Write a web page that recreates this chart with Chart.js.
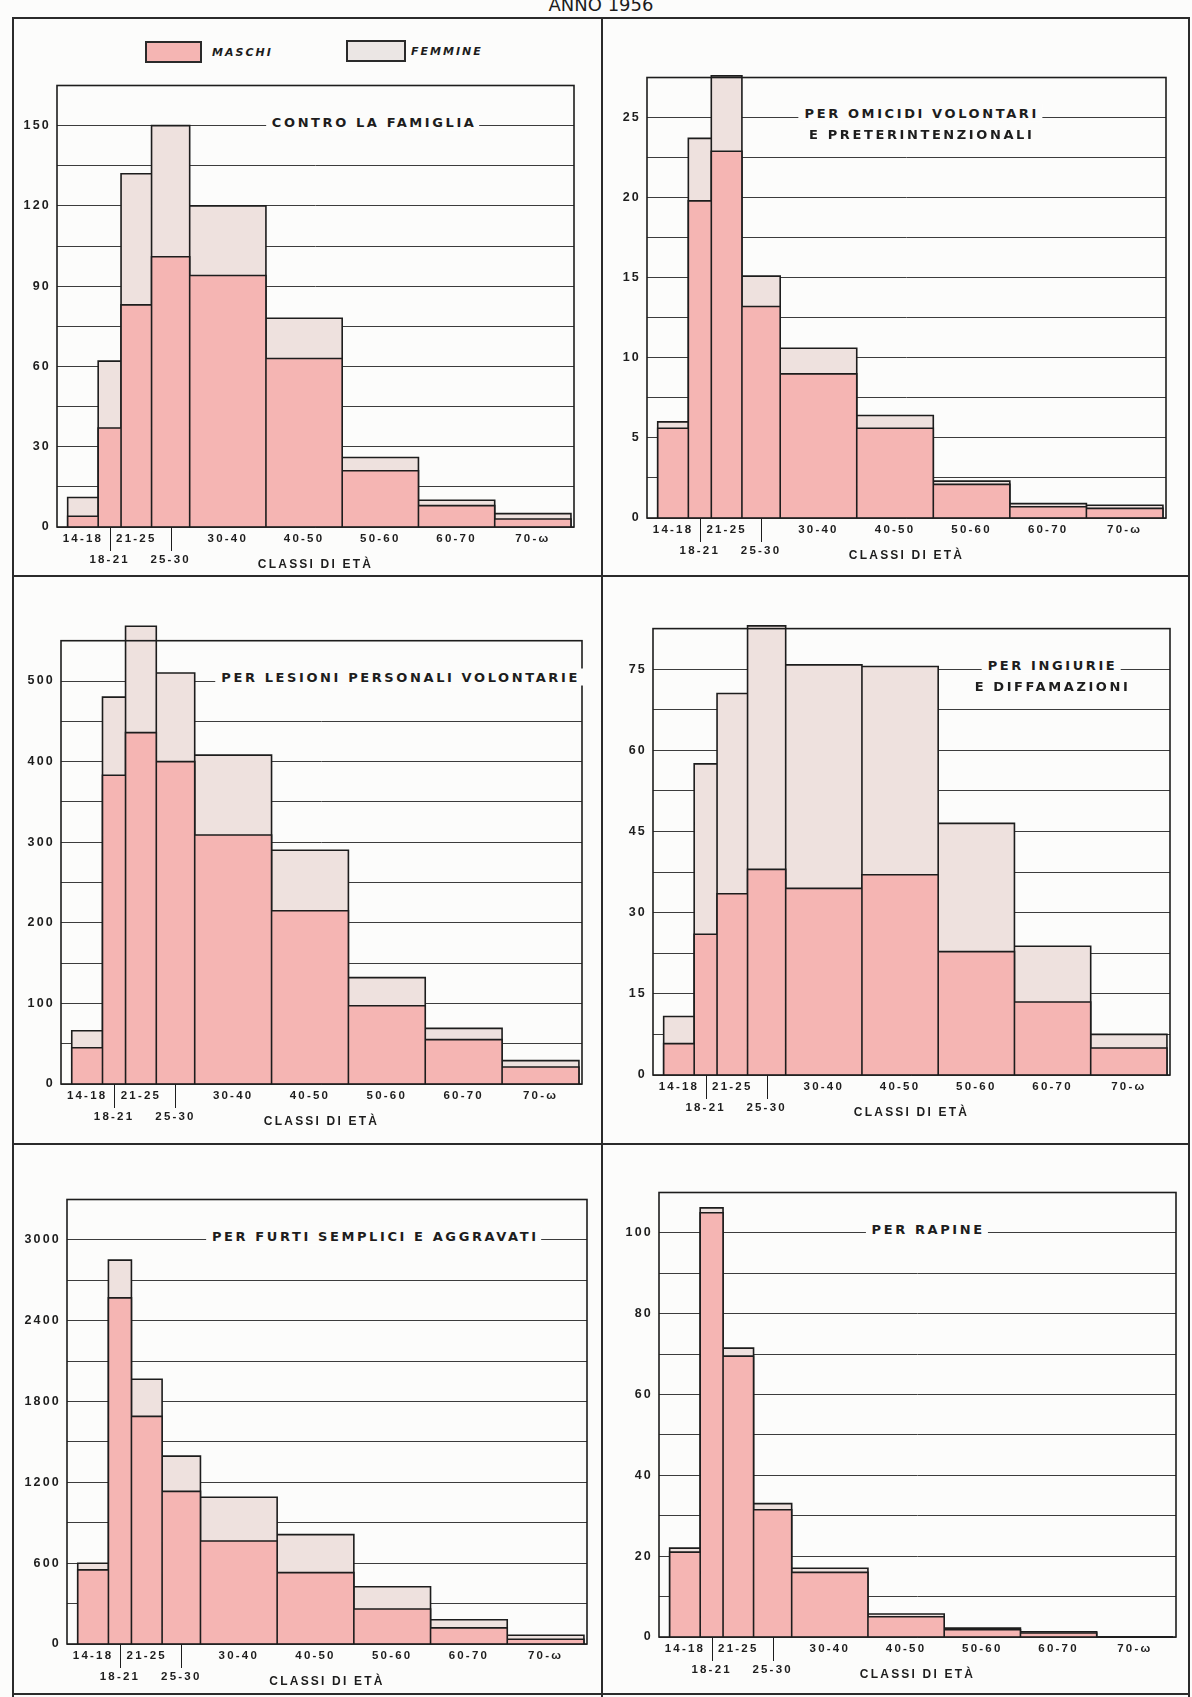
<!DOCTYPE html>
<html lang="it">
<head>
<meta charset="utf-8">
<title>Anno 1956 - condannati per classi di età</title>
<script src="https://cdn.jsdelivr.net/npm/chart.js@4.4.1/dist/chart.umd.min.js"></script>
<style>
  html, body { margin: 0; padding: 0; background: #fcfcfb; overflow: hidden; }
  #foglio { position: relative; width: 1192px; height: 1697px; overflow: hidden;
            font-family: "DejaVu Sans", sans-serif; color: #1d1d1d; }
  .riga { position: absolute; background: #2b2b2b; }
  .titolo { position: absolute; left: 601px; top: -6px; transform: translateX(-50%);
            font-size: 18px; letter-spacing: 0; white-space: nowrap; }
  .pannello { position: absolute; }
  .legenda-box { position: absolute; height: 22px; border: 2px solid #2a2a2a; box-sizing: border-box; }
  .legenda-testo { position: absolute; font-size: 11px; font-weight: bold; font-style: italic;
                   letter-spacing: 2px; line-height: 1; }
  .etichetta { position: absolute; transform: translate(-50%, -50%); font-size: 13px; font-weight: bold;
               letter-spacing: 2.6px; white-space: nowrap; line-height: 1; padding: 2px 3px 2px 6px; }
  .etichetta.sopra { background: #fcfcfb; }
</style>
</head>
<body>
<div id="foglio">
  <div class="titolo">ANNO 1956</div>

  <div class="riga" style="left:12px; top:17px; width:1178px; height:2px"></div>
  <div class="riga" style="left:12px; top:17px; width:2px; height:1680px"></div>
  <div class="riga" style="left:1188px; top:17px; width:2px; height:1680px"></div>
  <div class="riga" style="left:12px; top:1693px; width:1178px; height:2px"></div>
  <div class="riga" style="left:601px; top:17px; width:2px; height:1680px"></div>
  <div class="riga" style="left:12px; top:575px; width:1178px; height:2px"></div>
  <div class="riga" style="left:12px; top:1143px; width:1178px; height:2px"></div>

  <div class="legenda-box" style="left:145px; top:41px; width:57px; background:#f5b5b3"></div>
  <div class="legenda-testo" style="left:212px; top:47px">MASCHI</div>
  <div class="legenda-box" style="left:346px; top:40px; width:60px; background:#ebe6e4"></div>
  <div class="legenda-testo" style="left:411px; top:46px">FEMMINE</div>
</div>

<script>
// classi di età (ampiezze diverse: istogramma)
const classi = ['14-18', '18-21', '21-25', '25-30', '30-40', '40-50', '50-60', '60-70', '70-ω'];
const limiti = [14, 18, 21, 25, 30, 40, 50, 60, 70, 80];
const sottoRiga = [1, 3];   // etichette scritte sulla seconda riga
const etaMin = 12.6, etaMax = 80.4;

// contro la famiglia
const famigliaMaschi  = [4, 37, 83, 101, 94, 63, 21, 8, 3];
const famigliaFemmine = [7, 25, 49, 49, 26, 15, 5, 2, 2];
// omicidi volontari e preterintenzionali
const omicidiMaschi  = [5.6, 19.8, 22.9, 13.2, 9.0, 5.6, 2.1, 0.7, 0.6];
const omicidiFemmine = [0.4, 3.9, 4.7, 1.9, 1.6, 0.8, 0.2, 0.2, 0.2];
// lesioni personali volontarie
const lesioniMaschi  = [45, 383, 436, 400, 309, 215, 97, 55, 21];
const lesioniFemmine = [21, 97, 132, 110, 99, 75, 35, 14, 8];
// ingiurie e diffamazioni
const ingiurieMaschi  = [5.8, 26, 33.5, 38, 34.5, 37, 22.8, 13.5, 5];
const ingiurieFemmine = [5, 31.5, 37, 45, 41.3, 38.5, 23.7, 10.3, 2.5];
// furti semplici e aggravati
const furtiMaschi  = [550, 2570, 1690, 1133, 765, 530, 260, 120, 35];
const furtiFemmine = [50, 280, 275, 262, 325, 282, 165, 60, 30];
// rapine
const rapineMaschi  = [21, 105, 69.5, 31.5, 16, 5, 1.8, 1, 0];
const rapineFemmine = [1, 1.2, 2, 1.5, 1, 0.7, 0.4, 0.3, 0];

const ROSA = '#f5b5b3';
const GRIGIO = '#eee1de';
const INCHIOSTRO = '#1d1d1d';

const centri = classi.map((c, i) => (limiti[i] + limiti[i + 1]) / 2);

// area = riquadro del grafico sulla pagina [sinistra, cima, destra, base]
// cima = valore del bordo superiore, max = spazio per le barre che lo superano
const pannelli = [
  { area: [57, 82, 574, 527], cima: 165, max: 165, passo: 15, ogni: 30, m: famigliaMaschi, f: famigliaFemmine,
    titolo: { eta: 54, valore: 150, righe: ['CONTRO LA FAMIGLIA'] } },
  { area: [647, 74, 1166, 518], cima: 27.5, max: 28.5, passo: 2.5, ogni: 5, m: omicidiMaschi, f: omicidiFemmine,
    titolo: { eta: 48.3, valore: 25, righe: ['PER OMICIDI VOLONTARI', 'E PRETERINTENZIONALI'] } },
  { area: [61, 637, 582, 1084], cima: 550, max: 585, passo: 50, ogni: 100, m: lesioniMaschi, f: lesioniFemmine,
    titolo: { eta: 56.6, valore: 500, righe: ['PER LESIONI PERSONALI VOLONTARIE'] } },
  { area: [653, 625, 1170, 1075], cima: 82.5, max: 84, passo: 7.5, ogni: 15, m: ingiurieMaschi, f: ingiurieFemmine,
    titolo: { eta: 64.8, valore: 75, righe: ['PER INGIURIE', 'E DIFFAMAZIONI'] } },
  { area: [67, 1196, 587, 1644], cima: 3300, max: 3300, passo: 300, ogni: 600, m: furtiMaschi, f: furtiFemmine,
    titolo: { eta: 52.6, valore: 3000, righe: ['PER FURTI SEMPLICI E AGGRAVATI'] } },
  { area: [659, 1189, 1176, 1637], cima: 110, max: 110, passo: 10, ogni: 20, m: rapineMaschi, f: rapineFemmine,
    titolo: { eta: 47.7, valore: 100, righe: ['PER RAPINE'] } }
];

// rettangoli affiancati: ogni classe va da limiti[i] a limiti[i+1]
function gradini(valori) {
  const punti = [];
  valori.forEach((v, i) => {
    punti.push({ x: limiti[i], y: 0 }, { x: limiti[i], y: v },
               { x: limiti[i + 1], y: v }, { x: limiti[i + 1], y: 0 });
  });
  return punti;
}

const spaziatura = {
  id: 'spaziatura',
  beforeDraw(chart) { chart.ctx.letterSpacing = '2.2px'; }
};

const richiami = {
  id: 'richiami',
  afterDraw(chart) {
    const { ctx, chartArea: a, scales: { x } } = chart;
    ctx.save();
    ctx.strokeStyle = INCHIOSTRO;
    ctx.lineWidth = 1;
    sottoRiga.forEach(i => {
      const px = Math.round(x.getPixelForValue(centri[i])) + 0.5;
      ctx.beginPath();
      ctx.moveTo(px, a.bottom);
      ctx.lineTo(px, a.bottom + 24);
      ctx.stroke();
    });
    ctx.restore();
  }
};

const foglio = document.getElementById('foglio');

pannelli.forEach(p => {
  const [L, T, R, B] = p.area;
  const alto = T - (p.max - p.cima) * (B - T) / p.cima;
  const box = document.createElement('div');
  box.className = 'pannello';
  box.style.left = (L - 56) + 'px';
  box.style.top = (alto - 10) + 'px';
  const canvas = document.createElement('canvas');
  canvas.width = R - L + 62;
  canvas.height = Math.round(B - alto + 60);
  box.appendChild(canvas);
  foglio.appendChild(box);

  const etichette = p.titolo.righe.map((testo, i) => {
    const d = document.createElement('div');
    d.className = 'etichetta' + (i === 0 ? ' sopra' : '');
    d.textContent = testo;
    foglio.appendChild(d);
    return d;
  });

  const cornice = {
    id: 'cornice',
    afterDatasetsDraw(chart) {
      const { ctx, chartArea: a, scales: { y } } = chart;
      const top = y.getPixelForValue(p.cima);
      ctx.save();
      ctx.strokeStyle = INCHIOSTRO;
      ctx.lineWidth = 1.6;
      ctx.strokeRect(a.left, top, a.right - a.left, a.bottom - top);
      ctx.restore();
    }
  };

  const titoli = {
    id: 'titoli',
    afterDraw(chart) {
      const { x, y } = chart.scales;
      const cx = L - 56 + x.getPixelForValue(p.titolo.eta);
      const cy = alto - 10 + y.getPixelForValue(p.titolo.valore) - 4;
      etichette.forEach((d, i) => {
        d.style.left = cx + 'px';
        d.style.top = (cy + i * 21) + 'px';
      });
    }
  };

  const totali = p.m.map((v, i) => v + p.f[i]);

  new Chart(canvas, {
    type: 'line',
    data: {
      datasets: [
        { label: 'MASCHI', data: gradini(p.m), backgroundColor: ROSA, fill: 'origin', order: 0, clip: false },
        { label: 'FEMMINE', data: gradini(totali), backgroundColor: GRIGIO, fill: 'origin', order: 1, clip: false }
      ]
    },
    options: {
      responsive: false,
      animation: false,
      events: [],
      elements: {
        line: { borderColor: INCHIOSTRO, borderWidth: 1.6, tension: 0, borderJoinStyle: 'miter' },
        point: { radius: 0, hoverRadius: 0 }
      },
      layout: { padding: { left: 0, top: 10, right: 6, bottom: 0 } },
      plugins: { legend: { display: false }, tooltip: { enabled: false } },
      scales: {
        x: {
          type: 'linear', min: etaMin, max: etaMax,
          grid: { display: false, drawTicks: false },
          border: { display: false },
          afterBuildTicks: s => { s.ticks = centri.map(v => ({ value: v })); },
          afterFit: s => { s.height = 50; },
          ticks: {
            autoSkip: false, maxRotation: 0, minRotation: 0, padding: 1, color: INCHIOSTRO,
            font: { size: 11.5, weight: 'bold', lineHeight: 1.82 },
            callback: (v, i) => sottoRiga.includes(i) ? ['', classi[i]] : classi[i]
          },
          title: {
            display: true, text: 'CLASSI DI ETÀ', color: INCHIOSTRO,
            font: { size: 12, weight: 'bold', lineHeight: 1.2 },
            padding: { top: 0, bottom: 5 }
          }
        },
        y: {
          min: 0, max: p.max,
          grid: { color: '#3c3c3c', lineWidth: 1, drawTicks: false },
          border: { display: false },
          afterBuildTicks: s => {
            const t = [];
            for (let k = 0; k * p.passo <= p.cima + 1e-9; k++) t.push({ value: +(k * p.passo).toFixed(4) });
            s.ticks = t;
          },
          afterFit: s => { s.width = 56; },
          ticks: {
            padding: 6, color: INCHIOSTRO,
            font: { size: 12.5, weight: 'bold' },
            callback: v => {
              const r = v / p.ogni;
              return Math.abs(r - Math.round(r)) < 1e-6 ? String(v) : '';
            }
          }
        }
      }
    },
    plugins: [spaziatura, cornice, richiami, titoli]
  });
});
</script>
</body>
</html>
